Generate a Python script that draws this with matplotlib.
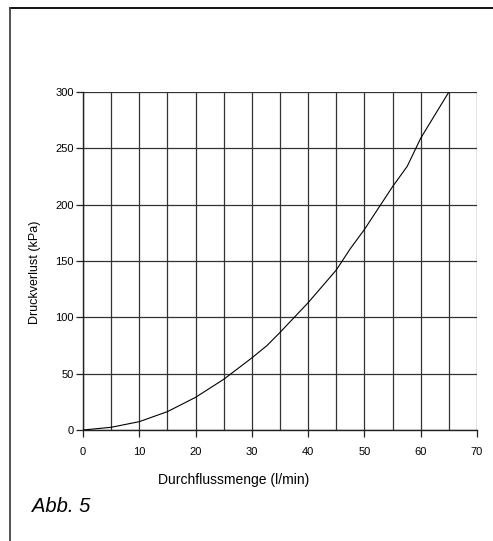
import matplotlib.pyplot as plt
from matplotlib.lines import Line2D

plt.rcParams["font.family"] = ["Liberation Sans", "DejaVu Sans"]

# flow rate (l/min) vs pressure loss (kPa)
flow = [0, 5, 10, 15, 20, 25, 30, 32.7, 35, 40, 45, 47.5, 50, 55, 57.6, 60, 65]
pressure = [0, 2.4, 7.4, 16.3, 29, 45, 64, 75, 86.6, 113, 142, 161, 178, 216, 234, 259, 300]

x_ticks = [0, 10, 20, 30, 40, 50, 60, 70]
y_ticks = [0, 50, 100, 150, 200, 250, 300]
x_grid = list(range(0, 71, 5))

W, H = 493, 541
fig = plt.figure(figsize=(W / 100, H / 100), dpi=100)
ax = fig.add_axes([83 / W, 1 - 430 / H, (477 - 83) / W, (430 - 92) / H])

ax.set_xlim(0, 70)
ax.set_ylim(0, 300)
ax.set_xticks(x_ticks)
ax.set_yticks(y_ticks)
ax.set_xticks(x_grid, minor=True)

ax.grid(True, which="major", axis="y", color="#333333", linewidth=0.9)
ax.grid(True, which="both", axis="x", color="#333333", linewidth=0.9)
ax.set_axisbelow(True)

ax.plot(flow, pressure, color="black", linewidth=0.8, zorder=3)

for side in ["top", "right"]:
    ax.spines[side].set_visible(False)
for side in ["left", "bottom"]:
    ax.spines[side].set_color("#222222")
    ax.spines[side].set_linewidth(1.0)

ax.tick_params(axis="both", which="major", direction="out", length=5,
               width=0.9, color="#222222", labelsize=8)
ax.tick_params(axis="x", which="major", pad=7)
ax.tick_params(axis="y", which="major", pad=1.5)
ax.tick_params(axis="x", which="minor", length=0)

fig.text(234 / W, 1 - 480 / H, "Durchflussmenge (l/min)", ha="center",
         va="center", fontsize=10)
fig.text(35 / W, 1 - 272 / H, "Druckverlust (kPa)", ha="center",
         va="center", rotation=90, fontsize=9)
fig.text(32 / W, 1 - 506 / H, "Abb. 5", ha="left", va="center",
         fontsize=14.5, style="italic")

# outer frame (top and left edges only, as in the scan)
fig.add_artist(Line2D([10 / W, 1], [1 - 8 / H, 1 - 8 / H],
                      transform=fig.transFigure, color="#111111", linewidth=1.4))
fig.add_artist(Line2D([10 / W, 10 / W], [0, 1 - 8 / H],
                      transform=fig.transFigure, color="#444444", linewidth=1.3))

fig.savefig("out.png", dpi=100)
plt.close(fig)
